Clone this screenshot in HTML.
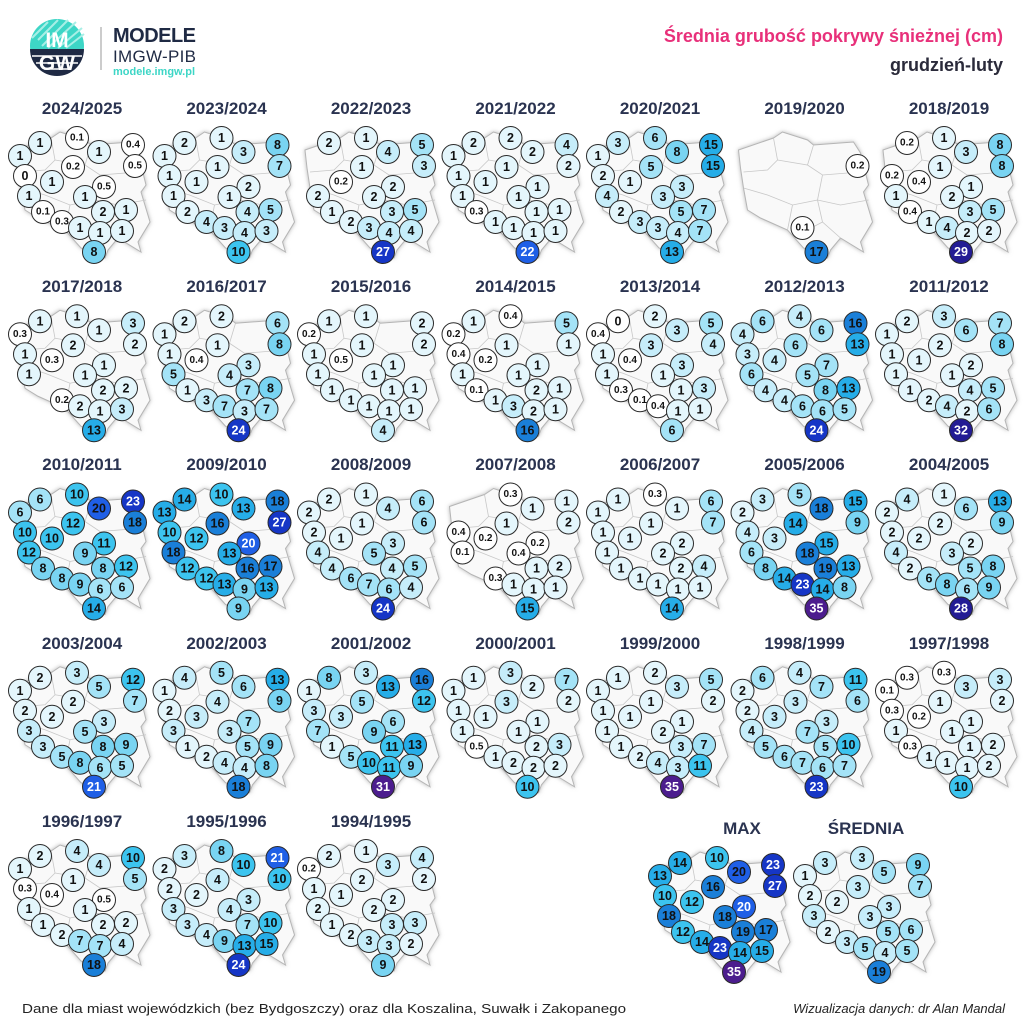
<!DOCTYPE html>
<html><head><meta charset="utf-8"><style>
html,body{margin:0;padding:0;background:#fff}
svg{display:block}
text{font-family:"Liberation Sans",sans-serif}
.m text{text-anchor:middle;dominant-baseline:central;font-weight:bold;font-size:12.5px;fill:#111}
.m text.s{font-size:10px}
.m text.w{fill:#fff}
.m circle{stroke:#2a2a2a;stroke-width:1}
.a{fill:#ffffff}.b{fill:#e4f6fc}.c{fill:#c6edfa}.d{fill:#a4e3f7}.e{fill:#79d4f2}.f{fill:#3cc4ef}.g{fill:#26ade8}.h{fill:#1a7fd8}.i{fill:#1f5fe6}.j{fill:#1636c6}.k{fill:#231c94}.l{fill:#4c1d8e}
.t{font-weight:bold;font-size:17px;fill:#2a3350;text-anchor:middle}
</style></head><body>
<svg width="1024" height="1024" viewBox="0 0 1024 1024" xmlns="http://www.w3.org/2000/svg">
<defs>
<filter id="sh" x="-20%" y="-20%" width="140%" height="140%"><feDropShadow dx="0" dy="0" stdDeviation="2" flood-color="#888" flood-opacity="0.6"/></filter>
<path id="pl" d="M16,150 L51,138 L60,132 L85,140 L91,145 L131,142 L138,153 L146,185 L141,192 L150,222 L138,242 L141,252 L118,238 L108,250 L105,258 L81,248 L65,230 L38,218 L25,210 L21,188 L18,168 Z" fill="#f9f9f9" stroke="#b5b5b5" stroke-width="1" filter="url(#sh)"/>
<g id="bd" fill="none" stroke="#c8c8c8" stroke-width="0.8"><path d="M51,138 L55,160 L45,170 L21,172 M55,160 L85,165 L91,145 M85,165 L100,175 L138,172 M100,175 L95,200 L70,205 L45,195 L21,188 M95,200 L118,205 L146,200 M70,205 L65,230 M95,200 L100,222 L118,238 M100,222 L81,232"/></g>
<clipPath id="cp"><rect x="0" y="0" width="1" height="1"/></clipPath>
</defs>

<!-- header -->
<circle cx="57" cy="46" r="27" fill="#3dd6c6"/>
<g stroke="#a8efe6" stroke-width="2">
<line x1="38" y1="40" x2="58" y2="20"/><line x1="42" y1="46" x2="68" y2="20"/><line x1="48" y1="48" x2="76" y2="22"/><line x1="58" y1="48" x2="82" y2="28"/><line x1="66" y1="48" x2="84" y2="34"/><line x1="32" y1="38" x2="48" y2="22"/>
</g>
<path d="M30,49 L84,49 A27,27 0 0 1 30,49 Z" fill="#1f2a44"/>
<g stroke="#fff" stroke-width="1.5"><line x1="32" y1="56" x2="82" y2="56"/><line x1="36" y1="63" x2="78" y2="63"/><line x1="44" y1="69" x2="70" y2="69"/></g>
<text x="57" y="47" font-size="21" font-weight="bold" fill="#fff" text-anchor="middle">IM</text>
<text x="57" y="70" font-size="21" font-weight="bold" fill="#fff" text-anchor="middle">GW</text>
<line x1="101" y1="27" x2="101" y2="70" stroke="#999" stroke-width="1"/>
<text x="113" y="42" font-size="20" font-weight="bold" fill="#1f2a44" textLength="83">MODELE</text>
<text x="113" y="62" font-size="17" fill="#1f2a44" textLength="83">IMGW-PIB</text>
<text x="113" y="75" font-size="11" font-weight="bold" fill="#3dd6c6" textLength="82">modele.imgw.pl</text>
<text x="1003" y="42" font-size="18" font-weight="bold" fill="#e8307a" text-anchor="end">Średnia grubość pokrywy śnieżnej (cm)</text>
<text x="1003" y="71" font-size="18" font-weight="bold" fill="#2a2a3a" text-anchor="end">grudzień-luty</text>

<!-- titles -->
<text class="t" x="82" y="114">2024/2025</text><text class="t" x="226.5" y="114">2023/2024</text><text class="t" x="371" y="114">2022/2023</text><text class="t" x="515.5" y="114">2021/2022</text><text class="t" x="660" y="114">2020/2021</text><text class="t" x="804.5" y="114">2019/2020</text><text class="t" x="949" y="114">2018/2019</text>
<text class="t" x="82" y="292">2017/2018</text><text class="t" x="226.5" y="292">2016/2017</text><text class="t" x="371" y="292">2015/2016</text><text class="t" x="515.5" y="292">2014/2015</text><text class="t" x="660" y="292">2013/2014</text><text class="t" x="804.5" y="292">2012/2013</text><text class="t" x="949" y="292">2011/2012</text>
<text class="t" x="82" y="470">2010/2011</text><text class="t" x="226.5" y="470">2009/2010</text><text class="t" x="371" y="470">2008/2009</text><text class="t" x="515.5" y="470">2007/2008</text><text class="t" x="660" y="470">2006/2007</text><text class="t" x="804.5" y="470">2005/2006</text><text class="t" x="949" y="470">2004/2005</text>
<text class="t" x="82" y="649">2003/2004</text><text class="t" x="226.5" y="649">2002/2003</text><text class="t" x="371" y="649">2001/2002</text><text class="t" x="515.5" y="649">2000/2001</text><text class="t" x="660" y="649">1999/2000</text><text class="t" x="804.5" y="649">1998/1999</text><text class="t" x="949" y="649">1997/1998</text>
<text class="t" x="82" y="827">1996/1997</text><text class="t" x="226.5" y="827">1995/1996</text><text class="t" x="371" y="827">1994/1995</text>
<text class="t" x="742" y="834">MAX</text><text class="t" x="866" y="834">ŚREDNIA</text>

<!-- R0 -->
<g class="m" transform="translate(0,0)"><use href="#pl"/><use href="#bd"/>
<circle class="b" cx="40" cy="143" r="11.5"/><text x="40" y="143">1</text>
<circle class="a" cx="77" cy="138" r="11.5"/><text class="s" x="77" y="138">0.1</text>
<circle class="a" cx="133" cy="145" r="11.5"/><text class="s" x="133" y="145">0.4</text>
<circle class="b" cx="20" cy="156" r="11.5"/><text x="20" y="156">1</text>
<circle class="b" cx="99" cy="152" r="11.5"/><text x="99" y="152">1</text>
<circle class="a" cx="73" cy="167" r="11.5"/><text class="s" x="73" y="167">0.2</text>
<circle class="a" cx="135" cy="166" r="11.5"/><text class="s" x="135" y="166">0.5</text>
<circle class="a" cx="25" cy="176" r="11.5"/><text x="25" y="176">0</text>
<circle class="b" cx="52" cy="182" r="11.5"/><text x="52" y="182">1</text>
<circle class="a" cx="104" cy="187" r="11.5"/><text class="s" x="104" y="187">0.5</text>
<circle class="b" cx="29" cy="196" r="11.5"/><text x="29" y="196">1</text>
<circle class="b" cx="85" cy="197" r="11.5"/><text x="85" y="197">1</text>
<circle class="a" cx="43" cy="212" r="11.5"/><text class="s" x="43" y="212">0.1</text>
<circle class="b" cx="103" cy="212" r="11.5"/><text x="103" y="212">2</text>
<circle class="b" cx="126" cy="210" r="11.5"/><text x="126" y="210">1</text>
<circle class="a" cx="62" cy="222" r="11.5"/><text class="s" x="62" y="222">0.3</text>
<circle class="b" cx="80" cy="228" r="11.5"/><text x="80" y="228">1</text>
<circle class="b" cx="100" cy="233" r="11.5"/><text x="100" y="233">1</text>
<circle class="b" cx="122" cy="231" r="11.5"/><text x="122" y="231">1</text>
<circle class="e" cx="94" cy="252" r="11.5"/><text x="94" y="252">8</text>
</g>
<g class="m" transform="translate(144.5,0)"><use href="#pl"/><use href="#bd"/>
<circle class="b" cx="40" cy="143" r="11.5"/><text x="40" y="143">2</text>
<circle class="b" cx="77" cy="138" r="11.5"/><text x="77" y="138">1</text>
<circle class="e" cx="133" cy="145" r="11.5"/><text x="133" y="145">8</text>
<circle class="b" cx="20" cy="156" r="11.5"/><text x="20" y="156">1</text>
<circle class="c" cx="99" cy="152" r="11.5"/><text x="99" y="152">3</text>
<circle class="b" cx="73" cy="167" r="11.5"/><text x="73" y="167">1</text>
<circle class="d" cx="135" cy="166" r="11.5"/><text x="135" y="166">7</text>
<circle class="b" cx="25" cy="176" r="11.5"/><text x="25" y="176">1</text>
<circle class="b" cx="52" cy="182" r="11.5"/><text x="52" y="182">1</text>
<circle class="b" cx="104" cy="187" r="11.5"/><text x="104" y="187">2</text>
<circle class="b" cx="29" cy="196" r="11.5"/><text x="29" y="196">1</text>
<circle class="b" cx="85" cy="197" r="11.5"/><text x="85" y="197">1</text>
<circle class="b" cx="43" cy="212" r="11.5"/><text x="43" y="212">2</text>
<circle class="c" cx="103" cy="212" r="11.5"/><text x="103" y="212">4</text>
<circle class="d" cx="126" cy="210" r="11.5"/><text x="126" y="210">5</text>
<circle class="c" cx="62" cy="222" r="11.5"/><text x="62" y="222">4</text>
<circle class="c" cx="80" cy="228" r="11.5"/><text x="80" y="228">3</text>
<circle class="c" cx="100" cy="233" r="11.5"/><text x="100" y="233">4</text>
<circle class="c" cx="122" cy="231" r="11.5"/><text x="122" y="231">3</text>
<circle class="f" cx="94" cy="252" r="11.5"/><text x="94" y="252">10</text>
</g>
<g class="m" transform="translate(289,0)"><use href="#pl"/><use href="#bd"/>
<circle class="b" cx="40" cy="143" r="11.5"/><text x="40" y="143">2</text>
<circle class="b" cx="77" cy="138" r="11.5"/><text x="77" y="138">1</text>
<circle class="d" cx="133" cy="145" r="11.5"/><text x="133" y="145">5</text>
<circle class="c" cx="99" cy="152" r="11.5"/><text x="99" y="152">4</text>
<circle class="b" cx="73" cy="167" r="11.5"/><text x="73" y="167">1</text>
<circle class="c" cx="135" cy="166" r="11.5"/><text x="135" y="166">3</text>
<circle class="a" cx="52" cy="182" r="11.5"/><text class="s" x="52" y="182">0.2</text>
<circle class="b" cx="104" cy="187" r="11.5"/><text x="104" y="187">2</text>
<circle class="b" cx="29" cy="196" r="11.5"/><text x="29" y="196">2</text>
<circle class="b" cx="85" cy="197" r="11.5"/><text x="85" y="197">2</text>
<circle class="b" cx="43" cy="212" r="11.5"/><text x="43" y="212">1</text>
<circle class="c" cx="103" cy="212" r="11.5"/><text x="103" y="212">3</text>
<circle class="d" cx="126" cy="210" r="11.5"/><text x="126" y="210">5</text>
<circle class="b" cx="62" cy="222" r="11.5"/><text x="62" y="222">2</text>
<circle class="c" cx="80" cy="228" r="11.5"/><text x="80" y="228">3</text>
<circle class="c" cx="100" cy="233" r="11.5"/><text x="100" y="233">4</text>
<circle class="c" cx="122" cy="231" r="11.5"/><text x="122" y="231">4</text>
<circle class="j" cx="94" cy="252" r="11.5"/><text class="w" x="94" y="252">27</text>
</g>
<g class="m" transform="translate(433.5,0)"><use href="#pl"/><use href="#bd"/>
<circle class="b" cx="40" cy="143" r="11.5"/><text x="40" y="143">2</text>
<circle class="b" cx="77" cy="138" r="11.5"/><text x="77" y="138">2</text>
<circle class="c" cx="133" cy="145" r="11.5"/><text x="133" y="145">4</text>
<circle class="b" cx="20" cy="156" r="11.5"/><text x="20" y="156">1</text>
<circle class="b" cx="99" cy="152" r="11.5"/><text x="99" y="152">2</text>
<circle class="b" cx="73" cy="167" r="11.5"/><text x="73" y="167">1</text>
<circle class="b" cx="135" cy="166" r="11.5"/><text x="135" y="166">2</text>
<circle class="b" cx="25" cy="176" r="11.5"/><text x="25" y="176">1</text>
<circle class="b" cx="52" cy="182" r="11.5"/><text x="52" y="182">1</text>
<circle class="b" cx="104" cy="187" r="11.5"/><text x="104" y="187">1</text>
<circle class="b" cx="29" cy="196" r="11.5"/><text x="29" y="196">1</text>
<circle class="b" cx="85" cy="197" r="11.5"/><text x="85" y="197">1</text>
<circle class="a" cx="43" cy="212" r="11.5"/><text class="s" x="43" y="212">0.3</text>
<circle class="b" cx="103" cy="212" r="11.5"/><text x="103" y="212">1</text>
<circle class="b" cx="126" cy="210" r="11.5"/><text x="126" y="210">1</text>
<circle class="b" cx="62" cy="222" r="11.5"/><text x="62" y="222">1</text>
<circle class="b" cx="80" cy="228" r="11.5"/><text x="80" y="228">1</text>
<circle class="b" cx="100" cy="233" r="11.5"/><text x="100" y="233">1</text>
<circle class="b" cx="122" cy="231" r="11.5"/><text x="122" y="231">1</text>
<circle class="i" cx="94" cy="252" r="11.5"/><text class="w" x="94" y="252">22</text>
</g>
<g class="m" transform="translate(578,0)"><use href="#pl"/><use href="#bd"/>
<circle class="c" cx="40" cy="143" r="11.5"/><text x="40" y="143">3</text>
<circle class="d" cx="77" cy="138" r="11.5"/><text x="77" y="138">6</text>
<circle class="g" cx="133" cy="145" r="11.5"/><text x="133" y="145">15</text>
<circle class="b" cx="20" cy="156" r="11.5"/><text x="20" y="156">1</text>
<circle class="e" cx="99" cy="152" r="11.5"/><text x="99" y="152">8</text>
<circle class="d" cx="73" cy="167" r="11.5"/><text x="73" y="167">5</text>
<circle class="g" cx="135" cy="166" r="11.5"/><text x="135" y="166">15</text>
<circle class="b" cx="25" cy="176" r="11.5"/><text x="25" y="176">2</text>
<circle class="b" cx="52" cy="182" r="11.5"/><text x="52" y="182">1</text>
<circle class="c" cx="104" cy="187" r="11.5"/><text x="104" y="187">3</text>
<circle class="c" cx="29" cy="196" r="11.5"/><text x="29" y="196">4</text>
<circle class="c" cx="85" cy="197" r="11.5"/><text x="85" y="197">3</text>
<circle class="b" cx="43" cy="212" r="11.5"/><text x="43" y="212">2</text>
<circle class="d" cx="103" cy="212" r="11.5"/><text x="103" y="212">5</text>
<circle class="d" cx="126" cy="210" r="11.5"/><text x="126" y="210">7</text>
<circle class="c" cx="62" cy="222" r="11.5"/><text x="62" y="222">3</text>
<circle class="c" cx="80" cy="228" r="11.5"/><text x="80" y="228">3</text>
<circle class="c" cx="100" cy="233" r="11.5"/><text x="100" y="233">4</text>
<circle class="d" cx="122" cy="231" r="11.5"/><text x="122" y="231">7</text>
<circle class="g" cx="94" cy="252" r="11.5"/><text x="94" y="252">13</text>
</g>
<g class="m" transform="translate(722.5,0)"><use href="#pl"/><use href="#bd"/>
<circle class="a" cx="135" cy="166" r="11.5"/><text class="s" x="135" y="166">0.2</text>
<circle class="a" cx="80" cy="228" r="11.5"/><text class="s" x="80" y="228">0.1</text>
<circle class="h" cx="94" cy="252" r="11.5"/><text x="94" y="252">17</text>
</g>
<g class="m" transform="translate(867,0)"><use href="#pl"/><use href="#bd"/>
<circle class="a" cx="40" cy="143" r="11.5"/><text class="s" x="40" y="143">0.2</text>
<circle class="b" cx="77" cy="138" r="11.5"/><text x="77" y="138">1</text>
<circle class="e" cx="133" cy="145" r="11.5"/><text x="133" y="145">8</text>
<circle class="c" cx="99" cy="152" r="11.5"/><text x="99" y="152">3</text>
<circle class="b" cx="73" cy="167" r="11.5"/><text x="73" y="167">1</text>
<circle class="e" cx="135" cy="166" r="11.5"/><text x="135" y="166">8</text>
<circle class="a" cx="25" cy="176" r="11.5"/><text class="s" x="25" y="176">0.2</text>
<circle class="a" cx="52" cy="182" r="11.5"/><text class="s" x="52" y="182">0.4</text>
<circle class="b" cx="104" cy="187" r="11.5"/><text x="104" y="187">1</text>
<circle class="b" cx="29" cy="196" r="11.5"/><text x="29" y="196">1</text>
<circle class="b" cx="85" cy="197" r="11.5"/><text x="85" y="197">2</text>
<circle class="a" cx="43" cy="212" r="11.5"/><text class="s" x="43" y="212">0.4</text>
<circle class="c" cx="103" cy="212" r="11.5"/><text x="103" y="212">3</text>
<circle class="d" cx="126" cy="210" r="11.5"/><text x="126" y="210">5</text>
<circle class="b" cx="62" cy="222" r="11.5"/><text x="62" y="222">1</text>
<circle class="c" cx="80" cy="228" r="11.5"/><text x="80" y="228">4</text>
<circle class="b" cx="100" cy="233" r="11.5"/><text x="100" y="233">2</text>
<circle class="b" cx="122" cy="231" r="11.5"/><text x="122" y="231">2</text>
<circle class="k" cx="94" cy="252" r="11.5"/><text class="w" x="94" y="252">29</text>
</g>

<!-- R1 -->
<g class="m" transform="translate(0,178.25)"><use href="#pl"/><use href="#bd"/>
<circle class="b" cx="40" cy="143" r="11.5"/><text x="40" y="143">1</text>
<circle class="b" cx="77" cy="138" r="11.5"/><text x="77" y="138">1</text>
<circle class="c" cx="133" cy="145" r="11.5"/><text x="133" y="145">3</text>
<circle class="a" cx="20" cy="156" r="11.5"/><text class="s" x="20" y="156">0.3</text>
<circle class="b" cx="99" cy="152" r="11.5"/><text x="99" y="152">1</text>
<circle class="b" cx="73" cy="167" r="11.5"/><text x="73" y="167">2</text>
<circle class="b" cx="135" cy="166" r="11.5"/><text x="135" y="166">2</text>
<circle class="b" cx="25" cy="176" r="11.5"/><text x="25" y="176">1</text>
<circle class="a" cx="52" cy="182" r="11.5"/><text class="s" x="52" y="182">0.3</text>
<circle class="b" cx="104" cy="187" r="11.5"/><text x="104" y="187">1</text>
<circle class="b" cx="29" cy="196" r="11.5"/><text x="29" y="196">1</text>
<circle class="b" cx="85" cy="197" r="11.5"/><text x="85" y="197">1</text>
<circle class="b" cx="103" cy="212" r="11.5"/><text x="103" y="212">2</text>
<circle class="b" cx="126" cy="210" r="11.5"/><text x="126" y="210">2</text>
<circle class="a" cx="62" cy="222" r="11.5"/><text class="s" x="62" y="222">0.2</text>
<circle class="b" cx="80" cy="228" r="11.5"/><text x="80" y="228">2</text>
<circle class="b" cx="100" cy="233" r="11.5"/><text x="100" y="233">1</text>
<circle class="c" cx="122" cy="231" r="11.5"/><text x="122" y="231">3</text>
<circle class="g" cx="94" cy="252" r="11.5"/><text x="94" y="252">13</text>
</g>
<g class="m" transform="translate(144.5,178.25)"><use href="#pl"/><use href="#bd"/>
<circle class="b" cx="40" cy="143" r="11.5"/><text x="40" y="143">2</text>
<circle class="b" cx="77" cy="138" r="11.5"/><text x="77" y="138">2</text>
<circle class="d" cx="133" cy="145" r="11.5"/><text x="133" y="145">6</text>
<circle class="b" cx="20" cy="156" r="11.5"/><text x="20" y="156">1</text>
<circle class="b" cx="73" cy="167" r="11.5"/><text x="73" y="167">1</text>
<circle class="e" cx="135" cy="166" r="11.5"/><text x="135" y="166">8</text>
<circle class="b" cx="25" cy="176" r="11.5"/><text x="25" y="176">1</text>
<circle class="a" cx="52" cy="182" r="11.5"/><text class="s" x="52" y="182">0.4</text>
<circle class="c" cx="104" cy="187" r="11.5"/><text x="104" y="187">3</text>
<circle class="d" cx="29" cy="196" r="11.5"/><text x="29" y="196">5</text>
<circle class="c" cx="85" cy="197" r="11.5"/><text x="85" y="197">4</text>
<circle class="b" cx="43" cy="212" r="11.5"/><text x="43" y="212">1</text>
<circle class="d" cx="103" cy="212" r="11.5"/><text x="103" y="212">7</text>
<circle class="e" cx="126" cy="210" r="11.5"/><text x="126" y="210">8</text>
<circle class="c" cx="62" cy="222" r="11.5"/><text x="62" y="222">3</text>
<circle class="d" cx="80" cy="228" r="11.5"/><text x="80" y="228">7</text>
<circle class="c" cx="100" cy="233" r="11.5"/><text x="100" y="233">3</text>
<circle class="d" cx="122" cy="231" r="11.5"/><text x="122" y="231">7</text>
<circle class="j" cx="94" cy="252" r="11.5"/><text class="w" x="94" y="252">24</text>
</g>
<g class="m" transform="translate(289,178.25)"><use href="#pl"/><use href="#bd"/>
<circle class="b" cx="40" cy="143" r="11.5"/><text x="40" y="143">1</text>
<circle class="b" cx="77" cy="138" r="11.5"/><text x="77" y="138">1</text>
<circle class="b" cx="133" cy="145" r="11.5"/><text x="133" y="145">2</text>
<circle class="a" cx="20" cy="156" r="11.5"/><text class="s" x="20" y="156">0.2</text>
<circle class="b" cx="73" cy="167" r="11.5"/><text x="73" y="167">1</text>
<circle class="b" cx="135" cy="166" r="11.5"/><text x="135" y="166">2</text>
<circle class="b" cx="25" cy="176" r="11.5"/><text x="25" y="176">1</text>
<circle class="a" cx="52" cy="182" r="11.5"/><text class="s" x="52" y="182">0.5</text>
<circle class="b" cx="104" cy="187" r="11.5"/><text x="104" y="187">1</text>
<circle class="b" cx="29" cy="196" r="11.5"/><text x="29" y="196">1</text>
<circle class="b" cx="85" cy="197" r="11.5"/><text x="85" y="197">1</text>
<circle class="b" cx="43" cy="212" r="11.5"/><text x="43" y="212">1</text>
<circle class="b" cx="103" cy="212" r="11.5"/><text x="103" y="212">1</text>
<circle class="b" cx="126" cy="210" r="11.5"/><text x="126" y="210">1</text>
<circle class="b" cx="62" cy="222" r="11.5"/><text x="62" y="222">1</text>
<circle class="b" cx="80" cy="228" r="11.5"/><text x="80" y="228">1</text>
<circle class="b" cx="100" cy="233" r="11.5"/><text x="100" y="233">1</text>
<circle class="b" cx="122" cy="231" r="11.5"/><text x="122" y="231">1</text>
<circle class="c" cx="94" cy="252" r="11.5"/><text x="94" y="252">4</text>
</g>
<g class="m" transform="translate(433.5,178.25)"><use href="#pl"/><use href="#bd"/>
<circle class="b" cx="40" cy="143" r="11.5"/><text x="40" y="143">1</text>
<circle class="a" cx="77" cy="138" r="11.5"/><text class="s" x="77" y="138">0.4</text>
<circle class="d" cx="133" cy="145" r="11.5"/><text x="133" y="145">5</text>
<circle class="a" cx="20" cy="156" r="11.5"/><text class="s" x="20" y="156">0.2</text>
<circle class="b" cx="73" cy="167" r="11.5"/><text x="73" y="167">1</text>
<circle class="b" cx="135" cy="166" r="11.5"/><text x="135" y="166">1</text>
<circle class="a" cx="25" cy="176" r="11.5"/><text class="s" x="25" y="176">0.4</text>
<circle class="a" cx="52" cy="182" r="11.5"/><text class="s" x="52" y="182">0.2</text>
<circle class="b" cx="104" cy="187" r="11.5"/><text x="104" y="187">1</text>
<circle class="b" cx="29" cy="196" r="11.5"/><text x="29" y="196">1</text>
<circle class="b" cx="85" cy="197" r="11.5"/><text x="85" y="197">1</text>
<circle class="a" cx="43" cy="212" r="11.5"/><text class="s" x="43" y="212">0.1</text>
<circle class="b" cx="103" cy="212" r="11.5"/><text x="103" y="212">2</text>
<circle class="b" cx="126" cy="210" r="11.5"/><text x="126" y="210">1</text>
<circle class="b" cx="62" cy="222" r="11.5"/><text x="62" y="222">1</text>
<circle class="c" cx="80" cy="228" r="11.5"/><text x="80" y="228">3</text>
<circle class="b" cx="100" cy="233" r="11.5"/><text x="100" y="233">2</text>
<circle class="b" cx="122" cy="231" r="11.5"/><text x="122" y="231">1</text>
<circle class="h" cx="94" cy="252" r="11.5"/><text x="94" y="252">16</text>
</g>
<g class="m" transform="translate(578,178.25)"><use href="#pl"/><use href="#bd"/>
<circle class="a" cx="40" cy="143" r="11.5"/><text x="40" y="143">0</text>
<circle class="b" cx="77" cy="138" r="11.5"/><text x="77" y="138">2</text>
<circle class="d" cx="133" cy="145" r="11.5"/><text x="133" y="145">5</text>
<circle class="a" cx="20" cy="156" r="11.5"/><text class="s" x="20" y="156">0.4</text>
<circle class="c" cx="99" cy="152" r="11.5"/><text x="99" y="152">3</text>
<circle class="c" cx="73" cy="167" r="11.5"/><text x="73" y="167">3</text>
<circle class="c" cx="135" cy="166" r="11.5"/><text x="135" y="166">4</text>
<circle class="b" cx="25" cy="176" r="11.5"/><text x="25" y="176">1</text>
<circle class="a" cx="52" cy="182" r="11.5"/><text class="s" x="52" y="182">0.4</text>
<circle class="c" cx="104" cy="187" r="11.5"/><text x="104" y="187">3</text>
<circle class="b" cx="29" cy="196" r="11.5"/><text x="29" y="196">1</text>
<circle class="b" cx="85" cy="197" r="11.5"/><text x="85" y="197">1</text>
<circle class="a" cx="43" cy="212" r="11.5"/><text class="s" x="43" y="212">0.3</text>
<circle class="b" cx="103" cy="212" r="11.5"/><text x="103" y="212">1</text>
<circle class="c" cx="126" cy="210" r="11.5"/><text x="126" y="210">3</text>
<circle class="a" cx="62" cy="222" r="11.5"/><text class="s" x="62" y="222">0.1</text>
<circle class="a" cx="80" cy="228" r="11.5"/><text class="s" x="80" y="228">0.4</text>
<circle class="b" cx="100" cy="233" r="11.5"/><text x="100" y="233">1</text>
<circle class="b" cx="122" cy="231" r="11.5"/><text x="122" y="231">1</text>
<circle class="d" cx="94" cy="252" r="11.5"/><text x="94" y="252">6</text>
</g>
<g class="m" transform="translate(722.5,178.25)"><use href="#pl"/><use href="#bd"/>
<circle class="d" cx="40" cy="143" r="11.5"/><text x="40" y="143">6</text>
<circle class="c" cx="77" cy="138" r="11.5"/><text x="77" y="138">4</text>
<circle class="h" cx="133" cy="145" r="11.5"/><text x="133" y="145">16</text>
<circle class="c" cx="20" cy="156" r="11.5"/><text x="20" y="156">4</text>
<circle class="d" cx="99" cy="152" r="11.5"/><text x="99" y="152">6</text>
<circle class="d" cx="73" cy="167" r="11.5"/><text x="73" y="167">6</text>
<circle class="g" cx="135" cy="166" r="11.5"/><text x="135" y="166">13</text>
<circle class="c" cx="25" cy="176" r="11.5"/><text x="25" y="176">3</text>
<circle class="c" cx="52" cy="182" r="11.5"/><text x="52" y="182">4</text>
<circle class="d" cx="104" cy="187" r="11.5"/><text x="104" y="187">7</text>
<circle class="d" cx="29" cy="196" r="11.5"/><text x="29" y="196">6</text>
<circle class="d" cx="85" cy="197" r="11.5"/><text x="85" y="197">5</text>
<circle class="c" cx="43" cy="212" r="11.5"/><text x="43" y="212">4</text>
<circle class="e" cx="103" cy="212" r="11.5"/><text x="103" y="212">8</text>
<circle class="g" cx="126" cy="210" r="11.5"/><text x="126" y="210">13</text>
<circle class="c" cx="62" cy="222" r="11.5"/><text x="62" y="222">4</text>
<circle class="d" cx="80" cy="228" r="11.5"/><text x="80" y="228">6</text>
<circle class="d" cx="100" cy="233" r="11.5"/><text x="100" y="233">6</text>
<circle class="d" cx="122" cy="231" r="11.5"/><text x="122" y="231">5</text>
<circle class="j" cx="94" cy="252" r="11.5"/><text class="w" x="94" y="252">24</text>
</g>
<g class="m" transform="translate(867,178.25)"><use href="#pl"/><use href="#bd"/>
<circle class="b" cx="40" cy="143" r="11.5"/><text x="40" y="143">2</text>
<circle class="c" cx="77" cy="138" r="11.5"/><text x="77" y="138">3</text>
<circle class="d" cx="133" cy="145" r="11.5"/><text x="133" y="145">7</text>
<circle class="b" cx="20" cy="156" r="11.5"/><text x="20" y="156">1</text>
<circle class="d" cx="99" cy="152" r="11.5"/><text x="99" y="152">6</text>
<circle class="b" cx="73" cy="167" r="11.5"/><text x="73" y="167">2</text>
<circle class="e" cx="135" cy="166" r="11.5"/><text x="135" y="166">8</text>
<circle class="b" cx="25" cy="176" r="11.5"/><text x="25" y="176">1</text>
<circle class="b" cx="52" cy="182" r="11.5"/><text x="52" y="182">1</text>
<circle class="b" cx="104" cy="187" r="11.5"/><text x="104" y="187">2</text>
<circle class="b" cx="29" cy="196" r="11.5"/><text x="29" y="196">1</text>
<circle class="b" cx="85" cy="197" r="11.5"/><text x="85" y="197">1</text>
<circle class="b" cx="43" cy="212" r="11.5"/><text x="43" y="212">1</text>
<circle class="c" cx="103" cy="212" r="11.5"/><text x="103" y="212">4</text>
<circle class="d" cx="126" cy="210" r="11.5"/><text x="126" y="210">5</text>
<circle class="b" cx="62" cy="222" r="11.5"/><text x="62" y="222">2</text>
<circle class="c" cx="80" cy="228" r="11.5"/><text x="80" y="228">4</text>
<circle class="b" cx="100" cy="233" r="11.5"/><text x="100" y="233">2</text>
<circle class="d" cx="122" cy="231" r="11.5"/><text x="122" y="231">6</text>
<circle class="k" cx="94" cy="252" r="11.5"/><text class="w" x="94" y="252">32</text>
</g>

<!-- R2 -->
<g class="m" transform="translate(0,356.5)"><use href="#pl"/><use href="#bd"/>
<circle class="d" cx="40" cy="143" r="11.5"/><text x="40" y="143">6</text>
<circle class="f" cx="77" cy="138" r="11.5"/><text x="77" y="138">10</text>
<circle class="j" cx="133" cy="145" r="11.5"/><text class="w" x="133" y="145">23</text>
<circle class="d" cx="20" cy="156" r="11.5"/><text x="20" y="156">6</text>
<circle class="i" cx="99" cy="152" r="11.5"/><text x="99" y="152">20</text>
<circle class="f" cx="73" cy="167" r="11.5"/><text x="73" y="167">12</text>
<circle class="h" cx="135" cy="166" r="11.5"/><text x="135" y="166">18</text>
<circle class="f" cx="25" cy="176" r="11.5"/><text x="25" y="176">10</text>
<circle class="f" cx="52" cy="182" r="11.5"/><text x="52" y="182">10</text>
<circle class="f" cx="104" cy="187" r="11.5"/><text x="104" y="187">11</text>
<circle class="f" cx="29" cy="196" r="11.5"/><text x="29" y="196">12</text>
<circle class="e" cx="85" cy="197" r="11.5"/><text x="85" y="197">9</text>
<circle class="e" cx="43" cy="212" r="11.5"/><text x="43" y="212">8</text>
<circle class="e" cx="103" cy="212" r="11.5"/><text x="103" y="212">8</text>
<circle class="f" cx="126" cy="210" r="11.5"/><text x="126" y="210">12</text>
<circle class="e" cx="62" cy="222" r="11.5"/><text x="62" y="222">8</text>
<circle class="e" cx="80" cy="228" r="11.5"/><text x="80" y="228">9</text>
<circle class="d" cx="100" cy="233" r="11.5"/><text x="100" y="233">6</text>
<circle class="d" cx="122" cy="231" r="11.5"/><text x="122" y="231">6</text>
<circle class="g" cx="94" cy="252" r="11.5"/><text x="94" y="252">14</text>
</g>
<g class="m" transform="translate(144.5,356.5)"><use href="#pl"/><use href="#bd"/>
<circle class="g" cx="40" cy="143" r="11.5"/><text x="40" y="143">14</text>
<circle class="f" cx="77" cy="138" r="11.5"/><text x="77" y="138">10</text>
<circle class="h" cx="133" cy="145" r="11.5"/><text x="133" y="145">18</text>
<circle class="g" cx="20" cy="156" r="11.5"/><text x="20" y="156">13</text>
<circle class="g" cx="99" cy="152" r="11.5"/><text x="99" y="152">13</text>
<circle class="h" cx="73" cy="167" r="11.5"/><text x="73" y="167">16</text>
<circle class="j" cx="135" cy="166" r="11.5"/><text class="w" x="135" y="166">27</text>
<circle class="f" cx="25" cy="176" r="11.5"/><text x="25" y="176">10</text>
<circle class="f" cx="52" cy="182" r="11.5"/><text x="52" y="182">12</text>
<circle class="i" cx="104" cy="187" r="11.5"/><text class="w" x="104" y="187">20</text>
<circle class="h" cx="29" cy="196" r="11.5"/><text x="29" y="196">18</text>
<circle class="g" cx="85" cy="197" r="11.5"/><text x="85" y="197">13</text>
<circle class="f" cx="43" cy="212" r="11.5"/><text x="43" y="212">12</text>
<circle class="h" cx="103" cy="212" r="11.5"/><text x="103" y="212">16</text>
<circle class="h" cx="126" cy="210" r="11.5"/><text x="126" y="210">17</text>
<circle class="f" cx="62" cy="222" r="11.5"/><text x="62" y="222">12</text>
<circle class="g" cx="80" cy="228" r="11.5"/><text x="80" y="228">13</text>
<circle class="e" cx="100" cy="233" r="11.5"/><text x="100" y="233">9</text>
<circle class="g" cx="122" cy="231" r="11.5"/><text x="122" y="231">13</text>
<circle class="e" cx="94" cy="252" r="11.5"/><text x="94" y="252">9</text>
</g>
<g class="m" transform="translate(289,356.5)"><use href="#pl"/><use href="#bd"/>
<circle class="b" cx="40" cy="143" r="11.5"/><text x="40" y="143">2</text>
<circle class="b" cx="77" cy="138" r="11.5"/><text x="77" y="138">1</text>
<circle class="d" cx="133" cy="145" r="11.5"/><text x="133" y="145">6</text>
<circle class="b" cx="20" cy="156" r="11.5"/><text x="20" y="156">2</text>
<circle class="c" cx="99" cy="152" r="11.5"/><text x="99" y="152">4</text>
<circle class="b" cx="73" cy="167" r="11.5"/><text x="73" y="167">1</text>
<circle class="d" cx="135" cy="166" r="11.5"/><text x="135" y="166">6</text>
<circle class="b" cx="25" cy="176" r="11.5"/><text x="25" y="176">2</text>
<circle class="b" cx="52" cy="182" r="11.5"/><text x="52" y="182">1</text>
<circle class="c" cx="104" cy="187" r="11.5"/><text x="104" y="187">3</text>
<circle class="c" cx="29" cy="196" r="11.5"/><text x="29" y="196">4</text>
<circle class="d" cx="85" cy="197" r="11.5"/><text x="85" y="197">5</text>
<circle class="c" cx="43" cy="212" r="11.5"/><text x="43" y="212">4</text>
<circle class="c" cx="103" cy="212" r="11.5"/><text x="103" y="212">4</text>
<circle class="d" cx="126" cy="210" r="11.5"/><text x="126" y="210">5</text>
<circle class="d" cx="62" cy="222" r="11.5"/><text x="62" y="222">6</text>
<circle class="d" cx="80" cy="228" r="11.5"/><text x="80" y="228">7</text>
<circle class="d" cx="100" cy="233" r="11.5"/><text x="100" y="233">6</text>
<circle class="c" cx="122" cy="231" r="11.5"/><text x="122" y="231">4</text>
<circle class="j" cx="94" cy="252" r="11.5"/><text class="w" x="94" y="252">24</text>
</g>
<g class="m" transform="translate(433.5,356.5)"><use href="#pl"/><use href="#bd"/>
<circle class="a" cx="77" cy="138" r="11.5"/><text class="s" x="77" y="138">0.3</text>
<circle class="b" cx="133" cy="145" r="11.5"/><text x="133" y="145">1</text>
<circle class="b" cx="99" cy="152" r="11.5"/><text x="99" y="152">1</text>
<circle class="b" cx="73" cy="167" r="11.5"/><text x="73" y="167">1</text>
<circle class="b" cx="135" cy="166" r="11.5"/><text x="135" y="166">2</text>
<circle class="a" cx="25" cy="176" r="11.5"/><text class="s" x="25" y="176">0.4</text>
<circle class="a" cx="52" cy="182" r="11.5"/><text class="s" x="52" y="182">0.2</text>
<circle class="a" cx="104" cy="187" r="11.5"/><text class="s" x="104" y="187">0.2</text>
<circle class="a" cx="29" cy="196" r="11.5"/><text class="s" x="29" y="196">0.1</text>
<circle class="a" cx="85" cy="197" r="11.5"/><text class="s" x="85" y="197">0.4</text>
<circle class="b" cx="103" cy="212" r="11.5"/><text x="103" y="212">1</text>
<circle class="b" cx="126" cy="210" r="11.5"/><text x="126" y="210">2</text>
<circle class="a" cx="62" cy="222" r="11.5"/><text class="s" x="62" y="222">0.3</text>
<circle class="b" cx="80" cy="228" r="11.5"/><text x="80" y="228">1</text>
<circle class="b" cx="100" cy="233" r="11.5"/><text x="100" y="233">1</text>
<circle class="b" cx="122" cy="231" r="11.5"/><text x="122" y="231">1</text>
<circle class="g" cx="94" cy="252" r="11.5"/><text x="94" y="252">15</text>
</g>
<g class="m" transform="translate(578,356.5)"><use href="#pl"/><use href="#bd"/>
<circle class="b" cx="40" cy="143" r="11.5"/><text x="40" y="143">1</text>
<circle class="a" cx="77" cy="138" r="11.5"/><text class="s" x="77" y="138">0.3</text>
<circle class="d" cx="133" cy="145" r="11.5"/><text x="133" y="145">6</text>
<circle class="b" cx="20" cy="156" r="11.5"/><text x="20" y="156">1</text>
<circle class="b" cx="99" cy="152" r="11.5"/><text x="99" y="152">1</text>
<circle class="b" cx="73" cy="167" r="11.5"/><text x="73" y="167">1</text>
<circle class="d" cx="135" cy="166" r="11.5"/><text x="135" y="166">7</text>
<circle class="b" cx="25" cy="176" r="11.5"/><text x="25" y="176">1</text>
<circle class="b" cx="52" cy="182" r="11.5"/><text x="52" y="182">1</text>
<circle class="b" cx="104" cy="187" r="11.5"/><text x="104" y="187">2</text>
<circle class="b" cx="29" cy="196" r="11.5"/><text x="29" y="196">1</text>
<circle class="b" cx="85" cy="197" r="11.5"/><text x="85" y="197">2</text>
<circle class="b" cx="43" cy="212" r="11.5"/><text x="43" y="212">1</text>
<circle class="b" cx="103" cy="212" r="11.5"/><text x="103" y="212">2</text>
<circle class="c" cx="126" cy="210" r="11.5"/><text x="126" y="210">4</text>
<circle class="b" cx="62" cy="222" r="11.5"/><text x="62" y="222">1</text>
<circle class="b" cx="80" cy="228" r="11.5"/><text x="80" y="228">1</text>
<circle class="b" cx="100" cy="233" r="11.5"/><text x="100" y="233">1</text>
<circle class="b" cx="122" cy="231" r="11.5"/><text x="122" y="231">1</text>
<circle class="g" cx="94" cy="252" r="11.5"/><text x="94" y="252">14</text>
</g>
<g class="m" transform="translate(722.5,356.5)"><use href="#pl"/><use href="#bd"/>
<circle class="c" cx="40" cy="143" r="11.5"/><text x="40" y="143">3</text>
<circle class="d" cx="77" cy="138" r="11.5"/><text x="77" y="138">5</text>
<circle class="g" cx="133" cy="145" r="11.5"/><text x="133" y="145">15</text>
<circle class="b" cx="20" cy="156" r="11.5"/><text x="20" y="156">2</text>
<circle class="h" cx="99" cy="152" r="11.5"/><text x="99" y="152">18</text>
<circle class="g" cx="73" cy="167" r="11.5"/><text x="73" y="167">14</text>
<circle class="e" cx="135" cy="166" r="11.5"/><text x="135" y="166">9</text>
<circle class="c" cx="25" cy="176" r="11.5"/><text x="25" y="176">4</text>
<circle class="c" cx="52" cy="182" r="11.5"/><text x="52" y="182">3</text>
<circle class="g" cx="104" cy="187" r="11.5"/><text x="104" y="187">15</text>
<circle class="d" cx="29" cy="196" r="11.5"/><text x="29" y="196">6</text>
<circle class="h" cx="85" cy="197" r="11.5"/><text x="85" y="197">18</text>
<circle class="e" cx="43" cy="212" r="11.5"/><text x="43" y="212">8</text>
<circle class="h" cx="103" cy="212" r="11.5"/><text x="103" y="212">19</text>
<circle class="g" cx="126" cy="210" r="11.5"/><text x="126" y="210">13</text>
<circle class="g" cx="62" cy="222" r="11.5"/><text x="62" y="222">14</text>
<circle class="j" cx="80" cy="228" r="11.5"/><text class="w" x="80" y="228">23</text>
<circle class="g" cx="100" cy="233" r="11.5"/><text x="100" y="233">14</text>
<circle class="e" cx="122" cy="231" r="11.5"/><text x="122" y="231">8</text>
<circle class="l" cx="94" cy="252" r="11.5"/><text class="w" x="94" y="252">35</text>
</g>
<g class="m" transform="translate(867,356.5)"><use href="#pl"/><use href="#bd"/>
<circle class="c" cx="40" cy="143" r="11.5"/><text x="40" y="143">4</text>
<circle class="b" cx="77" cy="138" r="11.5"/><text x="77" y="138">1</text>
<circle class="g" cx="133" cy="145" r="11.5"/><text x="133" y="145">13</text>
<circle class="b" cx="20" cy="156" r="11.5"/><text x="20" y="156">2</text>
<circle class="d" cx="99" cy="152" r="11.5"/><text x="99" y="152">6</text>
<circle class="b" cx="73" cy="167" r="11.5"/><text x="73" y="167">2</text>
<circle class="e" cx="135" cy="166" r="11.5"/><text x="135" y="166">9</text>
<circle class="b" cx="25" cy="176" r="11.5"/><text x="25" y="176">2</text>
<circle class="b" cx="52" cy="182" r="11.5"/><text x="52" y="182">2</text>
<circle class="b" cx="104" cy="187" r="11.5"/><text x="104" y="187">2</text>
<circle class="c" cx="29" cy="196" r="11.5"/><text x="29" y="196">4</text>
<circle class="c" cx="85" cy="197" r="11.5"/><text x="85" y="197">3</text>
<circle class="b" cx="43" cy="212" r="11.5"/><text x="43" y="212">2</text>
<circle class="d" cx="103" cy="212" r="11.5"/><text x="103" y="212">5</text>
<circle class="e" cx="126" cy="210" r="11.5"/><text x="126" y="210">8</text>
<circle class="d" cx="62" cy="222" r="11.5"/><text x="62" y="222">6</text>
<circle class="e" cx="80" cy="228" r="11.5"/><text x="80" y="228">8</text>
<circle class="d" cx="100" cy="233" r="11.5"/><text x="100" y="233">6</text>
<circle class="e" cx="122" cy="231" r="11.5"/><text x="122" y="231">9</text>
<circle class="k" cx="94" cy="252" r="11.5"/><text class="w" x="94" y="252">28</text>
</g>

<!-- R3 -->
<g class="m" transform="translate(0,534.75)"><use href="#pl"/><use href="#bd"/>
<circle class="b" cx="40" cy="143" r="11.5"/><text x="40" y="143">2</text>
<circle class="c" cx="77" cy="138" r="11.5"/><text x="77" y="138">3</text>
<circle class="f" cx="133" cy="145" r="11.5"/><text x="133" y="145">12</text>
<circle class="b" cx="20" cy="156" r="11.5"/><text x="20" y="156">1</text>
<circle class="d" cx="99" cy="152" r="11.5"/><text x="99" y="152">5</text>
<circle class="b" cx="73" cy="167" r="11.5"/><text x="73" y="167">2</text>
<circle class="d" cx="135" cy="166" r="11.5"/><text x="135" y="166">7</text>
<circle class="b" cx="25" cy="176" r="11.5"/><text x="25" y="176">2</text>
<circle class="b" cx="52" cy="182" r="11.5"/><text x="52" y="182">2</text>
<circle class="c" cx="104" cy="187" r="11.5"/><text x="104" y="187">3</text>
<circle class="c" cx="29" cy="196" r="11.5"/><text x="29" y="196">3</text>
<circle class="d" cx="85" cy="197" r="11.5"/><text x="85" y="197">5</text>
<circle class="c" cx="43" cy="212" r="11.5"/><text x="43" y="212">3</text>
<circle class="e" cx="103" cy="212" r="11.5"/><text x="103" y="212">8</text>
<circle class="e" cx="126" cy="210" r="11.5"/><text x="126" y="210">9</text>
<circle class="d" cx="62" cy="222" r="11.5"/><text x="62" y="222">5</text>
<circle class="e" cx="80" cy="228" r="11.5"/><text x="80" y="228">8</text>
<circle class="d" cx="100" cy="233" r="11.5"/><text x="100" y="233">6</text>
<circle class="d" cx="122" cy="231" r="11.5"/><text x="122" y="231">5</text>
<circle class="i" cx="94" cy="252" r="11.5"/><text class="w" x="94" y="252">21</text>
</g>
<g class="m" transform="translate(144.5,534.75)"><use href="#pl"/><use href="#bd"/>
<circle class="c" cx="40" cy="143" r="11.5"/><text x="40" y="143">4</text>
<circle class="d" cx="77" cy="138" r="11.5"/><text x="77" y="138">5</text>
<circle class="g" cx="133" cy="145" r="11.5"/><text x="133" y="145">13</text>
<circle class="b" cx="20" cy="156" r="11.5"/><text x="20" y="156">1</text>
<circle class="d" cx="99" cy="152" r="11.5"/><text x="99" y="152">6</text>
<circle class="c" cx="73" cy="167" r="11.5"/><text x="73" y="167">4</text>
<circle class="e" cx="135" cy="166" r="11.5"/><text x="135" y="166">9</text>
<circle class="b" cx="25" cy="176" r="11.5"/><text x="25" y="176">2</text>
<circle class="c" cx="52" cy="182" r="11.5"/><text x="52" y="182">3</text>
<circle class="d" cx="104" cy="187" r="11.5"/><text x="104" y="187">7</text>
<circle class="c" cx="29" cy="196" r="11.5"/><text x="29" y="196">3</text>
<circle class="c" cx="85" cy="197" r="11.5"/><text x="85" y="197">3</text>
<circle class="b" cx="43" cy="212" r="11.5"/><text x="43" y="212">1</text>
<circle class="d" cx="103" cy="212" r="11.5"/><text x="103" y="212">5</text>
<circle class="e" cx="126" cy="210" r="11.5"/><text x="126" y="210">9</text>
<circle class="b" cx="62" cy="222" r="11.5"/><text x="62" y="222">2</text>
<circle class="c" cx="80" cy="228" r="11.5"/><text x="80" y="228">4</text>
<circle class="c" cx="100" cy="233" r="11.5"/><text x="100" y="233">4</text>
<circle class="e" cx="122" cy="231" r="11.5"/><text x="122" y="231">8</text>
<circle class="h" cx="94" cy="252" r="11.5"/><text x="94" y="252">18</text>
</g>
<g class="m" transform="translate(289,534.75)"><use href="#pl"/><use href="#bd"/>
<circle class="e" cx="40" cy="143" r="11.5"/><text x="40" y="143">8</text>
<circle class="c" cx="77" cy="138" r="11.5"/><text x="77" y="138">3</text>
<circle class="h" cx="133" cy="145" r="11.5"/><text x="133" y="145">16</text>
<circle class="b" cx="20" cy="156" r="11.5"/><text x="20" y="156">1</text>
<circle class="g" cx="99" cy="152" r="11.5"/><text x="99" y="152">13</text>
<circle class="d" cx="73" cy="167" r="11.5"/><text x="73" y="167">5</text>
<circle class="f" cx="135" cy="166" r="11.5"/><text x="135" y="166">12</text>
<circle class="c" cx="25" cy="176" r="11.5"/><text x="25" y="176">3</text>
<circle class="c" cx="52" cy="182" r="11.5"/><text x="52" y="182">3</text>
<circle class="d" cx="104" cy="187" r="11.5"/><text x="104" y="187">6</text>
<circle class="d" cx="29" cy="196" r="11.5"/><text x="29" y="196">7</text>
<circle class="e" cx="85" cy="197" r="11.5"/><text x="85" y="197">9</text>
<circle class="b" cx="43" cy="212" r="11.5"/><text x="43" y="212">1</text>
<circle class="f" cx="103" cy="212" r="11.5"/><text x="103" y="212">11</text>
<circle class="g" cx="126" cy="210" r="11.5"/><text x="126" y="210">13</text>
<circle class="d" cx="62" cy="222" r="11.5"/><text x="62" y="222">5</text>
<circle class="f" cx="80" cy="228" r="11.5"/><text x="80" y="228">10</text>
<circle class="f" cx="100" cy="233" r="11.5"/><text x="100" y="233">11</text>
<circle class="e" cx="122" cy="231" r="11.5"/><text x="122" y="231">9</text>
<circle class="l" cx="94" cy="252" r="11.5"/><text class="w" x="94" y="252">31</text>
</g>
<g class="m" transform="translate(433.5,534.75)"><use href="#pl"/><use href="#bd"/>
<circle class="b" cx="40" cy="143" r="11.5"/><text x="40" y="143">1</text>
<circle class="c" cx="77" cy="138" r="11.5"/><text x="77" y="138">3</text>
<circle class="d" cx="133" cy="145" r="11.5"/><text x="133" y="145">7</text>
<circle class="b" cx="20" cy="156" r="11.5"/><text x="20" y="156">1</text>
<circle class="b" cx="99" cy="152" r="11.5"/><text x="99" y="152">2</text>
<circle class="c" cx="73" cy="167" r="11.5"/><text x="73" y="167">3</text>
<circle class="b" cx="135" cy="166" r="11.5"/><text x="135" y="166">2</text>
<circle class="b" cx="25" cy="176" r="11.5"/><text x="25" y="176">1</text>
<circle class="b" cx="52" cy="182" r="11.5"/><text x="52" y="182">1</text>
<circle class="b" cx="104" cy="187" r="11.5"/><text x="104" y="187">1</text>
<circle class="b" cx="29" cy="196" r="11.5"/><text x="29" y="196">1</text>
<circle class="b" cx="85" cy="197" r="11.5"/><text x="85" y="197">1</text>
<circle class="a" cx="43" cy="212" r="11.5"/><text class="s" x="43" y="212">0.5</text>
<circle class="b" cx="103" cy="212" r="11.5"/><text x="103" y="212">2</text>
<circle class="c" cx="126" cy="210" r="11.5"/><text x="126" y="210">3</text>
<circle class="b" cx="62" cy="222" r="11.5"/><text x="62" y="222">1</text>
<circle class="b" cx="80" cy="228" r="11.5"/><text x="80" y="228">2</text>
<circle class="b" cx="100" cy="233" r="11.5"/><text x="100" y="233">2</text>
<circle class="b" cx="122" cy="231" r="11.5"/><text x="122" y="231">2</text>
<circle class="f" cx="94" cy="252" r="11.5"/><text x="94" y="252">10</text>
</g>
<g class="m" transform="translate(578,534.75)"><use href="#pl"/><use href="#bd"/>
<circle class="b" cx="40" cy="143" r="11.5"/><text x="40" y="143">1</text>
<circle class="b" cx="77" cy="138" r="11.5"/><text x="77" y="138">2</text>
<circle class="d" cx="133" cy="145" r="11.5"/><text x="133" y="145">5</text>
<circle class="b" cx="20" cy="156" r="11.5"/><text x="20" y="156">1</text>
<circle class="c" cx="99" cy="152" r="11.5"/><text x="99" y="152">3</text>
<circle class="b" cx="73" cy="167" r="11.5"/><text x="73" y="167">1</text>
<circle class="b" cx="135" cy="166" r="11.5"/><text x="135" y="166">2</text>
<circle class="b" cx="25" cy="176" r="11.5"/><text x="25" y="176">1</text>
<circle class="b" cx="52" cy="182" r="11.5"/><text x="52" y="182">1</text>
<circle class="b" cx="104" cy="187" r="11.5"/><text x="104" y="187">1</text>
<circle class="b" cx="29" cy="196" r="11.5"/><text x="29" y="196">1</text>
<circle class="b" cx="85" cy="197" r="11.5"/><text x="85" y="197">2</text>
<circle class="b" cx="43" cy="212" r="11.5"/><text x="43" y="212">1</text>
<circle class="c" cx="103" cy="212" r="11.5"/><text x="103" y="212">3</text>
<circle class="d" cx="126" cy="210" r="11.5"/><text x="126" y="210">7</text>
<circle class="b" cx="62" cy="222" r="11.5"/><text x="62" y="222">2</text>
<circle class="c" cx="80" cy="228" r="11.5"/><text x="80" y="228">4</text>
<circle class="c" cx="100" cy="233" r="11.5"/><text x="100" y="233">3</text>
<circle class="f" cx="122" cy="231" r="11.5"/><text x="122" y="231">11</text>
<circle class="l" cx="94" cy="252" r="11.5"/><text class="w" x="94" y="252">35</text>
</g>
<g class="m" transform="translate(722.5,534.75)"><use href="#pl"/><use href="#bd"/>
<circle class="d" cx="40" cy="143" r="11.5"/><text x="40" y="143">6</text>
<circle class="c" cx="77" cy="138" r="11.5"/><text x="77" y="138">4</text>
<circle class="f" cx="133" cy="145" r="11.5"/><text x="133" y="145">11</text>
<circle class="b" cx="20" cy="156" r="11.5"/><text x="20" y="156">2</text>
<circle class="d" cx="99" cy="152" r="11.5"/><text x="99" y="152">7</text>
<circle class="c" cx="73" cy="167" r="11.5"/><text x="73" y="167">3</text>
<circle class="d" cx="135" cy="166" r="11.5"/><text x="135" y="166">6</text>
<circle class="b" cx="25" cy="176" r="11.5"/><text x="25" y="176">2</text>
<circle class="c" cx="52" cy="182" r="11.5"/><text x="52" y="182">3</text>
<circle class="c" cx="104" cy="187" r="11.5"/><text x="104" y="187">3</text>
<circle class="c" cx="29" cy="196" r="11.5"/><text x="29" y="196">4</text>
<circle class="d" cx="85" cy="197" r="11.5"/><text x="85" y="197">7</text>
<circle class="d" cx="43" cy="212" r="11.5"/><text x="43" y="212">5</text>
<circle class="d" cx="103" cy="212" r="11.5"/><text x="103" y="212">5</text>
<circle class="f" cx="126" cy="210" r="11.5"/><text x="126" y="210">10</text>
<circle class="d" cx="62" cy="222" r="11.5"/><text x="62" y="222">6</text>
<circle class="d" cx="80" cy="228" r="11.5"/><text x="80" y="228">7</text>
<circle class="d" cx="100" cy="233" r="11.5"/><text x="100" y="233">6</text>
<circle class="d" cx="122" cy="231" r="11.5"/><text x="122" y="231">7</text>
<circle class="j" cx="94" cy="252" r="11.5"/><text class="w" x="94" y="252">23</text>
</g>
<g class="m" transform="translate(867,534.75)"><use href="#pl"/><use href="#bd"/>
<circle class="a" cx="40" cy="143" r="11.5"/><text class="s" x="40" y="143">0.3</text>
<circle class="a" cx="77" cy="138" r="11.5"/><text class="s" x="77" y="138">0.3</text>
<circle class="c" cx="133" cy="145" r="11.5"/><text x="133" y="145">3</text>
<circle class="a" cx="20" cy="156" r="11.5"/><text class="s" x="20" y="156">0.1</text>
<circle class="c" cx="99" cy="152" r="11.5"/><text x="99" y="152">3</text>
<circle class="b" cx="73" cy="167" r="11.5"/><text x="73" y="167">1</text>
<circle class="b" cx="135" cy="166" r="11.5"/><text x="135" y="166">2</text>
<circle class="a" cx="25" cy="176" r="11.5"/><text class="s" x="25" y="176">0.3</text>
<circle class="a" cx="52" cy="182" r="11.5"/><text class="s" x="52" y="182">0.2</text>
<circle class="b" cx="104" cy="187" r="11.5"/><text x="104" y="187">1</text>
<circle class="b" cx="29" cy="196" r="11.5"/><text x="29" y="196">1</text>
<circle class="b" cx="85" cy="197" r="11.5"/><text x="85" y="197">1</text>
<circle class="a" cx="43" cy="212" r="11.5"/><text class="s" x="43" y="212">0.3</text>
<circle class="b" cx="103" cy="212" r="11.5"/><text x="103" y="212">1</text>
<circle class="b" cx="126" cy="210" r="11.5"/><text x="126" y="210">2</text>
<circle class="b" cx="62" cy="222" r="11.5"/><text x="62" y="222">1</text>
<circle class="b" cx="80" cy="228" r="11.5"/><text x="80" y="228">1</text>
<circle class="b" cx="100" cy="233" r="11.5"/><text x="100" y="233">1</text>
<circle class="b" cx="122" cy="231" r="11.5"/><text x="122" y="231">2</text>
<circle class="f" cx="94" cy="252" r="11.5"/><text x="94" y="252">10</text>
</g>

<!-- R4 -->
<g class="m" transform="translate(0,713)"><use href="#pl"/><use href="#bd"/>
<circle class="b" cx="40" cy="143" r="11.5"/><text x="40" y="143">2</text>
<circle class="c" cx="77" cy="138" r="11.5"/><text x="77" y="138">4</text>
<circle class="f" cx="133" cy="145" r="11.5"/><text x="133" y="145">10</text>
<circle class="b" cx="20" cy="156" r="11.5"/><text x="20" y="156">1</text>
<circle class="c" cx="99" cy="152" r="11.5"/><text x="99" y="152">4</text>
<circle class="b" cx="73" cy="167" r="11.5"/><text x="73" y="167">1</text>
<circle class="d" cx="135" cy="166" r="11.5"/><text x="135" y="166">5</text>
<circle class="a" cx="25" cy="176" r="11.5"/><text class="s" x="25" y="176">0.3</text>
<circle class="a" cx="52" cy="182" r="11.5"/><text class="s" x="52" y="182">0.4</text>
<circle class="a" cx="104" cy="187" r="11.5"/><text class="s" x="104" y="187">0.5</text>
<circle class="b" cx="29" cy="196" r="11.5"/><text x="29" y="196">1</text>
<circle class="b" cx="85" cy="197" r="11.5"/><text x="85" y="197">1</text>
<circle class="b" cx="43" cy="212" r="11.5"/><text x="43" y="212">1</text>
<circle class="b" cx="103" cy="212" r="11.5"/><text x="103" y="212">2</text>
<circle class="b" cx="126" cy="210" r="11.5"/><text x="126" y="210">2</text>
<circle class="b" cx="62" cy="222" r="11.5"/><text x="62" y="222">2</text>
<circle class="d" cx="80" cy="228" r="11.5"/><text x="80" y="228">7</text>
<circle class="d" cx="100" cy="233" r="11.5"/><text x="100" y="233">7</text>
<circle class="c" cx="122" cy="231" r="11.5"/><text x="122" y="231">4</text>
<circle class="h" cx="94" cy="252" r="11.5"/><text x="94" y="252">18</text>
</g>
<g class="m" transform="translate(144.5,713)"><use href="#pl"/><use href="#bd"/>
<circle class="c" cx="40" cy="143" r="11.5"/><text x="40" y="143">3</text>
<circle class="e" cx="77" cy="138" r="11.5"/><text x="77" y="138">8</text>
<circle class="i" cx="133" cy="145" r="11.5"/><text class="w" x="133" y="145">21</text>
<circle class="b" cx="20" cy="156" r="11.5"/><text x="20" y="156">2</text>
<circle class="f" cx="99" cy="152" r="11.5"/><text x="99" y="152">10</text>
<circle class="c" cx="73" cy="167" r="11.5"/><text x="73" y="167">4</text>
<circle class="f" cx="135" cy="166" r="11.5"/><text x="135" y="166">10</text>
<circle class="b" cx="25" cy="176" r="11.5"/><text x="25" y="176">2</text>
<circle class="b" cx="52" cy="182" r="11.5"/><text x="52" y="182">2</text>
<circle class="c" cx="104" cy="187" r="11.5"/><text x="104" y="187">3</text>
<circle class="c" cx="29" cy="196" r="11.5"/><text x="29" y="196">3</text>
<circle class="c" cx="85" cy="197" r="11.5"/><text x="85" y="197">4</text>
<circle class="c" cx="43" cy="212" r="11.5"/><text x="43" y="212">3</text>
<circle class="d" cx="103" cy="212" r="11.5"/><text x="103" y="212">7</text>
<circle class="f" cx="126" cy="210" r="11.5"/><text x="126" y="210">10</text>
<circle class="c" cx="62" cy="222" r="11.5"/><text x="62" y="222">4</text>
<circle class="e" cx="80" cy="228" r="11.5"/><text x="80" y="228">9</text>
<circle class="g" cx="100" cy="233" r="11.5"/><text x="100" y="233">13</text>
<circle class="g" cx="122" cy="231" r="11.5"/><text x="122" y="231">15</text>
<circle class="j" cx="94" cy="252" r="11.5"/><text class="w" x="94" y="252">24</text>
</g>
<g class="m" transform="translate(289,713)"><use href="#pl"/><use href="#bd"/>
<circle class="b" cx="40" cy="143" r="11.5"/><text x="40" y="143">2</text>
<circle class="b" cx="77" cy="138" r="11.5"/><text x="77" y="138">1</text>
<circle class="c" cx="133" cy="145" r="11.5"/><text x="133" y="145">4</text>
<circle class="a" cx="20" cy="156" r="11.5"/><text class="s" x="20" y="156">0.2</text>
<circle class="c" cx="99" cy="152" r="11.5"/><text x="99" y="152">3</text>
<circle class="b" cx="73" cy="167" r="11.5"/><text x="73" y="167">2</text>
<circle class="b" cx="135" cy="166" r="11.5"/><text x="135" y="166">2</text>
<circle class="b" cx="25" cy="176" r="11.5"/><text x="25" y="176">1</text>
<circle class="b" cx="52" cy="182" r="11.5"/><text x="52" y="182">1</text>
<circle class="b" cx="104" cy="187" r="11.5"/><text x="104" y="187">2</text>
<circle class="b" cx="29" cy="196" r="11.5"/><text x="29" y="196">2</text>
<circle class="b" cx="85" cy="197" r="11.5"/><text x="85" y="197">2</text>
<circle class="b" cx="43" cy="212" r="11.5"/><text x="43" y="212">1</text>
<circle class="c" cx="103" cy="212" r="11.5"/><text x="103" y="212">3</text>
<circle class="c" cx="126" cy="210" r="11.5"/><text x="126" y="210">3</text>
<circle class="b" cx="62" cy="222" r="11.5"/><text x="62" y="222">2</text>
<circle class="c" cx="80" cy="228" r="11.5"/><text x="80" y="228">3</text>
<circle class="c" cx="100" cy="233" r="11.5"/><text x="100" y="233">3</text>
<circle class="b" cx="122" cy="231" r="11.5"/><text x="122" y="231">2</text>
<circle class="e" cx="94" cy="252" r="11.5"/><text x="94" y="252">9</text>
</g>

<!-- MAX -->
<g class="m" transform="translate(640,720)"><use href="#pl"/><use href="#bd"/>
<circle class="g" cx="40" cy="143" r="11.5"/><text x="40" y="143">14</text>
<circle class="f" cx="77" cy="138" r="11.5"/><text x="77" y="138">10</text>
<circle class="j" cx="133" cy="145" r="11.5"/><text class="w" x="133" y="145">23</text>
<circle class="g" cx="20" cy="156" r="11.5"/><text x="20" y="156">13</text>
<circle class="i" cx="99" cy="152" r="11.5"/><text x="99" y="152">20</text>
<circle class="h" cx="73" cy="167" r="11.5"/><text x="73" y="167">16</text>
<circle class="j" cx="135" cy="166" r="11.5"/><text class="w" x="135" y="166">27</text>
<circle class="f" cx="25" cy="176" r="11.5"/><text x="25" y="176">10</text>
<circle class="f" cx="52" cy="182" r="11.5"/><text x="52" y="182">12</text>
<circle class="i" cx="104" cy="187" r="11.5"/><text class="w" x="104" y="187">20</text>
<circle class="h" cx="29" cy="196" r="11.5"/><text x="29" y="196">18</text>
<circle class="h" cx="85" cy="197" r="11.5"/><text x="85" y="197">18</text>
<circle class="f" cx="43" cy="212" r="11.5"/><text x="43" y="212">12</text>
<circle class="h" cx="103" cy="212" r="11.5"/><text x="103" y="212">19</text>
<circle class="h" cx="126" cy="210" r="11.5"/><text x="126" y="210">17</text>
<circle class="g" cx="62" cy="222" r="11.5"/><text x="62" y="222">14</text>
<circle class="j" cx="80" cy="228" r="11.5"/><text class="w" x="80" y="228">23</text>
<circle class="g" cx="100" cy="233" r="11.5"/><text x="100" y="233">14</text>
<circle class="g" cx="122" cy="231" r="11.5"/><text x="122" y="231">15</text>
<circle class="l" cx="94" cy="252" r="11.5"/><text class="w" x="94" y="252">35</text>
</g>
<!-- SREDNIA -->
<g class="m" transform="translate(785,720)"><use href="#pl"/><use href="#bd"/>
<circle class="c" cx="40" cy="143" r="11.5"/><text x="40" y="143">3</text>
<circle class="c" cx="77" cy="138" r="11.5"/><text x="77" y="138">3</text>
<circle class="e" cx="133" cy="145" r="11.5"/><text x="133" y="145">9</text>
<circle class="b" cx="20" cy="156" r="11.5"/><text x="20" y="156">1</text>
<circle class="d" cx="99" cy="152" r="11.5"/><text x="99" y="152">5</text>
<circle class="c" cx="73" cy="167" r="11.5"/><text x="73" y="167">3</text>
<circle class="d" cx="135" cy="166" r="11.5"/><text x="135" y="166">7</text>
<circle class="b" cx="25" cy="176" r="11.5"/><text x="25" y="176">2</text>
<circle class="b" cx="52" cy="182" r="11.5"/><text x="52" y="182">2</text>
<circle class="c" cx="104" cy="187" r="11.5"/><text x="104" y="187">3</text>
<circle class="c" cx="29" cy="196" r="11.5"/><text x="29" y="196">3</text>
<circle class="c" cx="85" cy="197" r="11.5"/><text x="85" y="197">3</text>
<circle class="b" cx="43" cy="212" r="11.5"/><text x="43" y="212">2</text>
<circle class="d" cx="103" cy="212" r="11.5"/><text x="103" y="212">5</text>
<circle class="d" cx="126" cy="210" r="11.5"/><text x="126" y="210">6</text>
<circle class="c" cx="62" cy="222" r="11.5"/><text x="62" y="222">3</text>
<circle class="d" cx="80" cy="228" r="11.5"/><text x="80" y="228">5</text>
<circle class="c" cx="100" cy="233" r="11.5"/><text x="100" y="233">4</text>
<circle class="d" cx="122" cy="231" r="11.5"/><text x="122" y="231">5</text>
<circle class="h" cx="94" cy="252" r="11.5"/><text x="94" y="252">19</text>
</g>

<!-- footer -->
<text x="22" y="1013" font-size="13" fill="#222" textLength="604" lengthAdjust="spacingAndGlyphs">Dane dla miast wojewódzkich (bez Bydgoszczy) oraz dla Koszalina, Suwałk i Zakopanego</text>
<text x="1005" y="1013" font-size="13" font-style="italic" fill="#222" text-anchor="end">Wizualizacja danych: dr Alan Mandal</text>
</svg>
</body></html>
